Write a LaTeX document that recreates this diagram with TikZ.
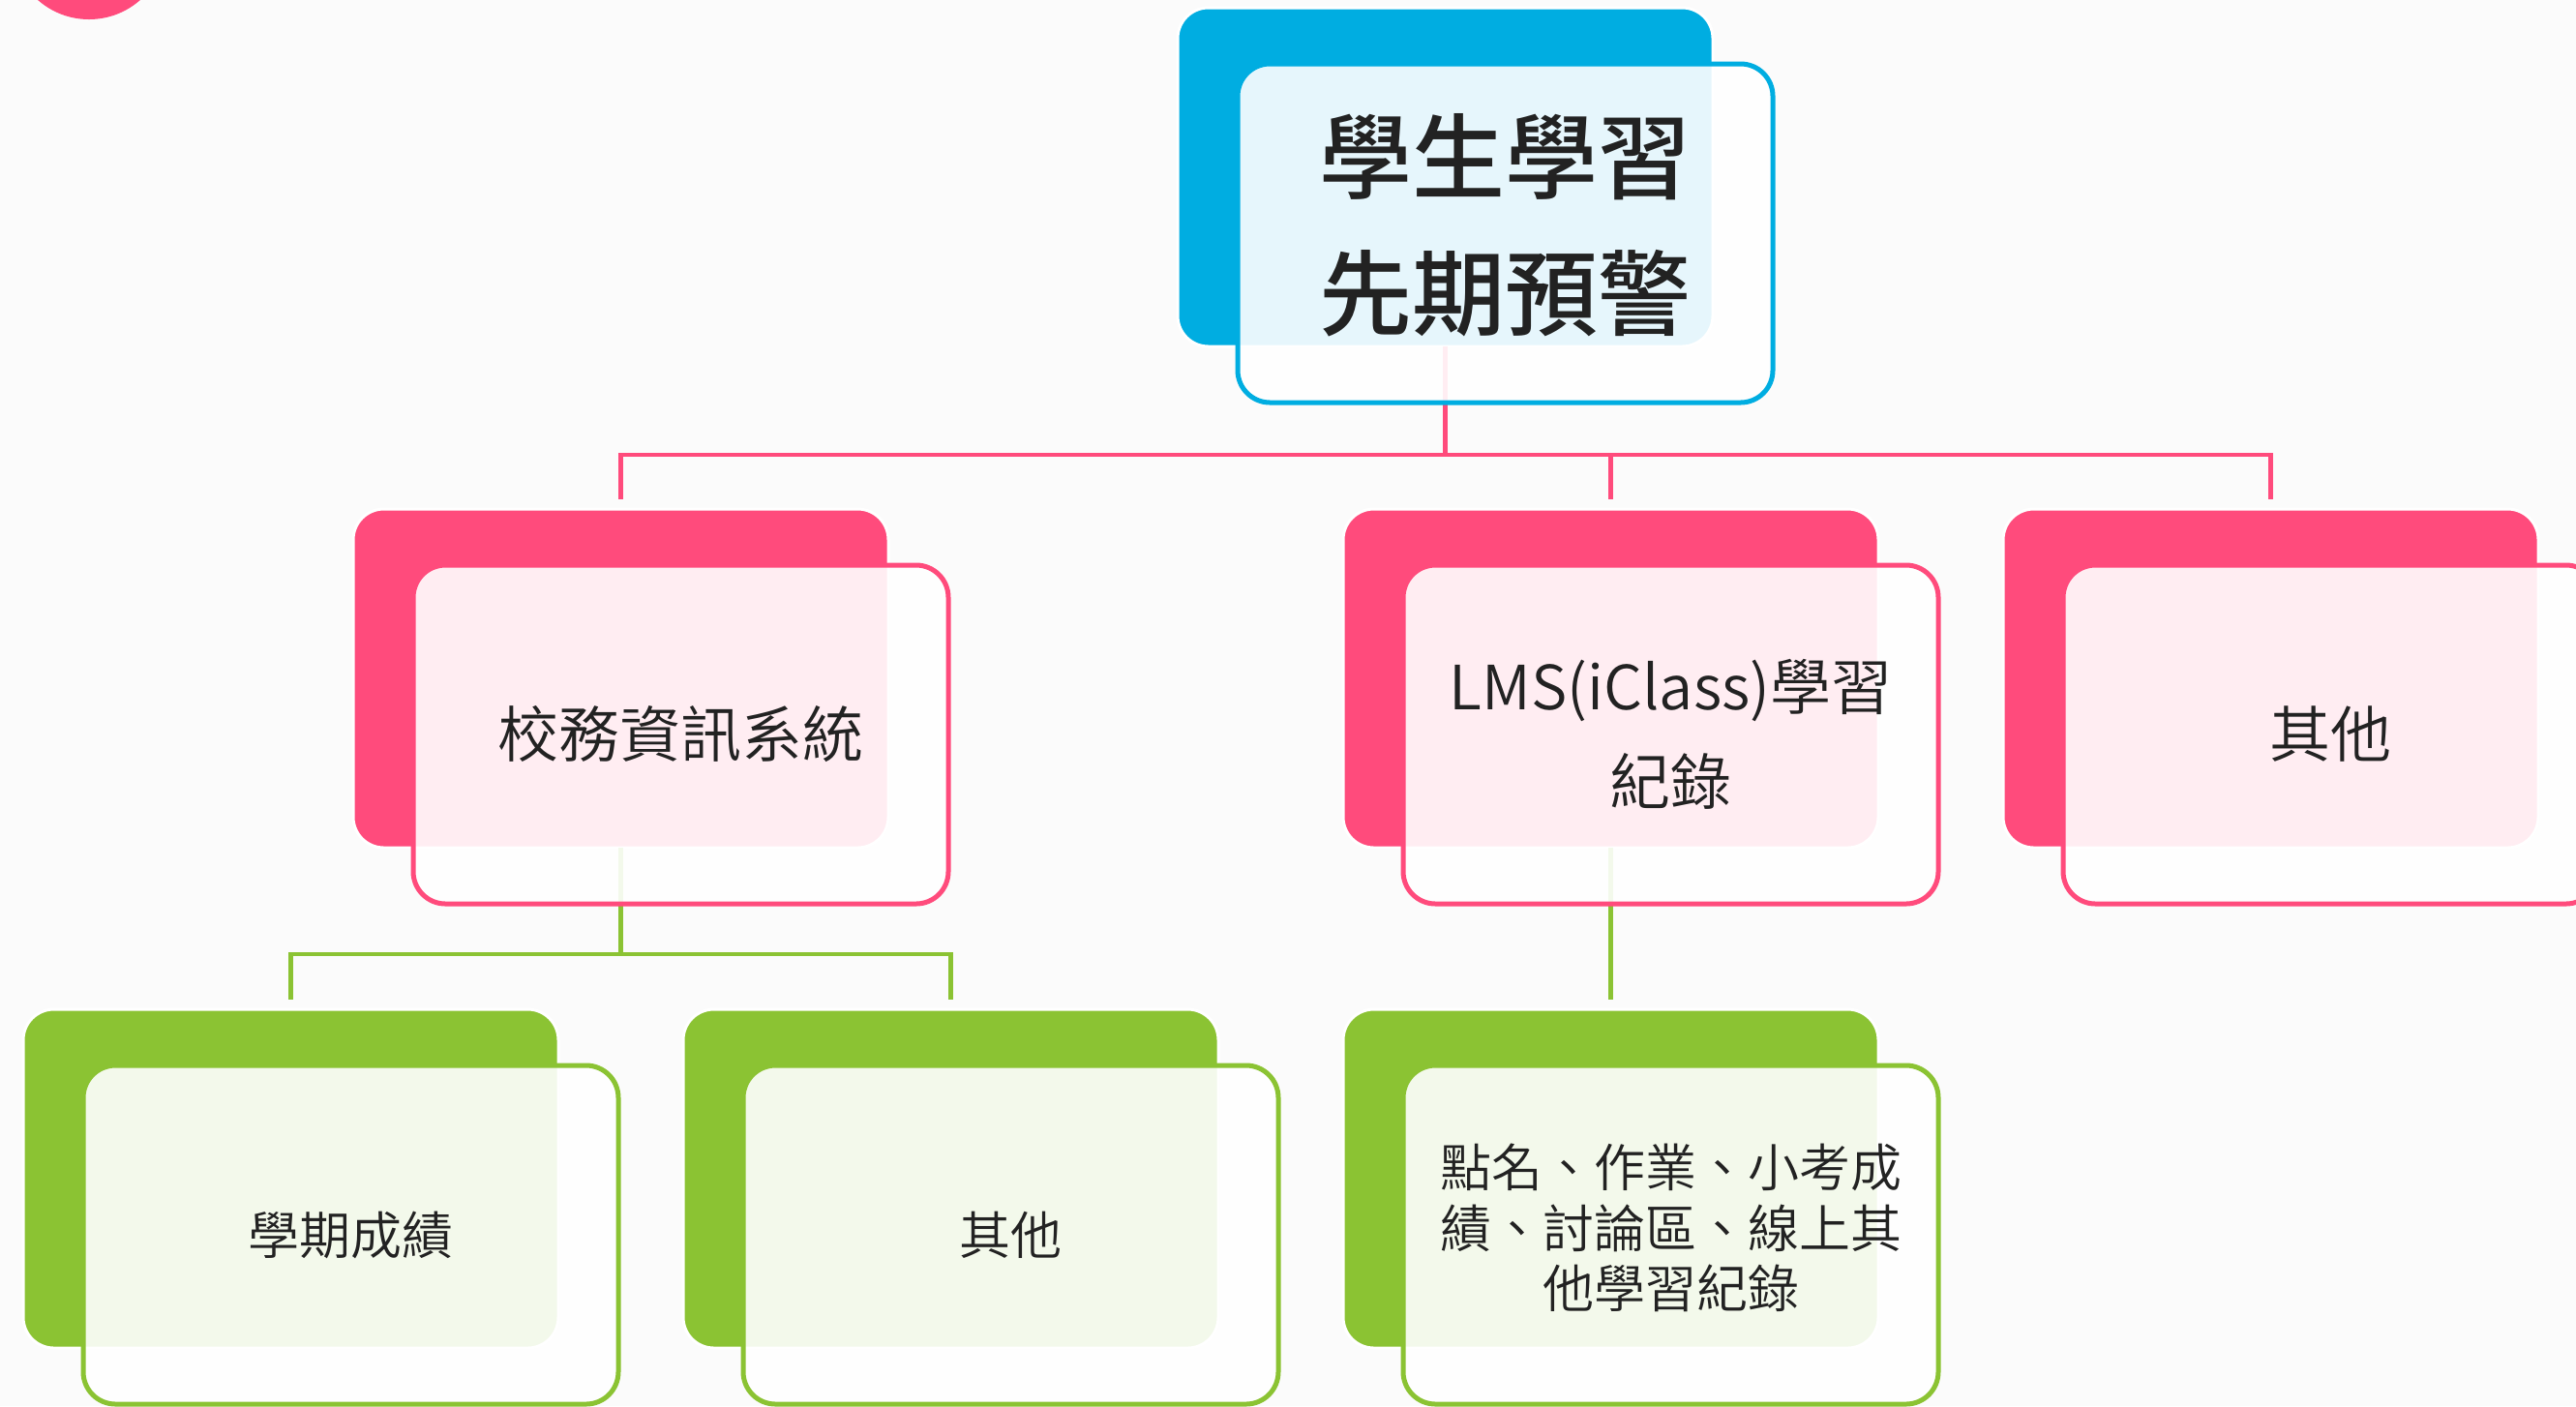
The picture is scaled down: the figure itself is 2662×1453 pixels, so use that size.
\documentclass[tikz,border=0pt]{standalone}
\usepackage{fontspec}
\newfontfamily\cjk{Noto Sans CJK TC DemiLight}
\newfontfamily\cjkb{Noto Sans CJK TC Medium}
\definecolor{pinkc}{HTML}{FF4B7C}
\definecolor{bluec}{HTML}{00ADE1}
\definecolor{greenc}{HTML}{8BC333}
\definecolor{bgc}{HTML}{FBFBFB}
\definecolor{txt}{HTML}{222222}
\begin{document}
\begin{tikzpicture}[x=0.3pt,y=-0.3pt,
  backbox/.style={draw=white, line width=0.9pt, rounded corners=9.5pt,
    minimum width=165.9pt, minimum height=105pt, inner sep=0pt, outer sep=0pt,
    anchor=north west},
  frontbox/.style={draw=#1, line width=1.5pt, fill=white, fill opacity=0.9,
    text opacity=1, rounded corners=10pt, minimum width=165.9pt,
    minimum height=105pt, inner sep=0pt, outer sep=0pt, anchor=north west,
    align=center, text=txt},
  conn/.style={draw=#1, line width=1.35pt, shorten >=3pt},
  titlefont/.style={font=\cjkb\fontsize{28.8pt}{42.3pt}\selectfont},
  midfont/.style={font=\cjk\fontsize{18.9pt}{29.4pt}\selectfont},
  lowfont/.style={font=\cjk\fontsize{15.9pt}{17.8pt}\selectfont}
]
\useasboundingbox (0,0) rectangle (2662,1453);
\fill[bgc] (0,0) rectangle (2662,1453);
\clip (0,0) rectangle (2662,1453);

\fill[pinkc] (92,-60) circle[radius=80];

% back boxes
\node[backbox, fill=bluec]  (topb) at (1217,8) {};
\node[backbox, fill=pinkc]  (p1b) at (365,526) {};
\node[backbox, fill=pinkc]  (p2b) at (1388,526) {};
\node[backbox, fill=pinkc]  (p3b) at (2070,526) {};
\node[backbox, fill=greenc] (g1b) at (24,1043) {};
\node[backbox, fill=greenc] (g2b) at (706,1043) {};
\node[backbox, fill=greenc] (g3b) at (1388,1043) {};

% connectors
\coordinate (bus1) at (0,470);
\coordinate (bus2) at (0,986);
\draw[conn=pinkc] (topb.south) -- (topb.south |- bus1) -| (p1b.north);
\draw[conn=pinkc] (topb.south) -- (topb.south |- bus1) -| (p2b.north);
\draw[conn=pinkc] (topb.south) -- (topb.south |- bus1) -| (p3b.north);
\draw[conn=greenc] (p1b.south) -- (p1b.south |- bus2) -| (g1b.north);
\draw[conn=greenc] (p1b.south) -- (p1b.south |- bus2) -| (g2b.north);
\draw[conn=greenc] (p2b.south) -- (g3b.north);

% front boxes
\node[frontbox=bluec, titlefont] (top) at (1279,66) {\raisebox{1.8pt}{\begin{tabular}{@{}c@{}}學生學習\\先期預警\end{tabular}}};
\node[frontbox=pinkc, midfont] (p1) at (427,584) {校務資訊系統};
\node[frontbox=pinkc, midfont] (p2) at (1450,584) {LMS(iClass)學習\\紀錄};
\node[frontbox=pinkc, midfont] (p3) at (2132,584) {其他};
\node[frontbox=greenc, lowfont] (g1) at (86,1101) {學期成績};
\node[frontbox=greenc, lowfont] (g2) at (768,1101) {其他};
\node[frontbox=greenc, lowfont] (g3) at (1450,1101) {\raisebox{2.7pt}{\begin{tabular}{@{}c@{}}點名、作業、小考成\\績、討論區、線上其\\他學習紀錄\end{tabular}}};
\end{tikzpicture}
\end{document}
